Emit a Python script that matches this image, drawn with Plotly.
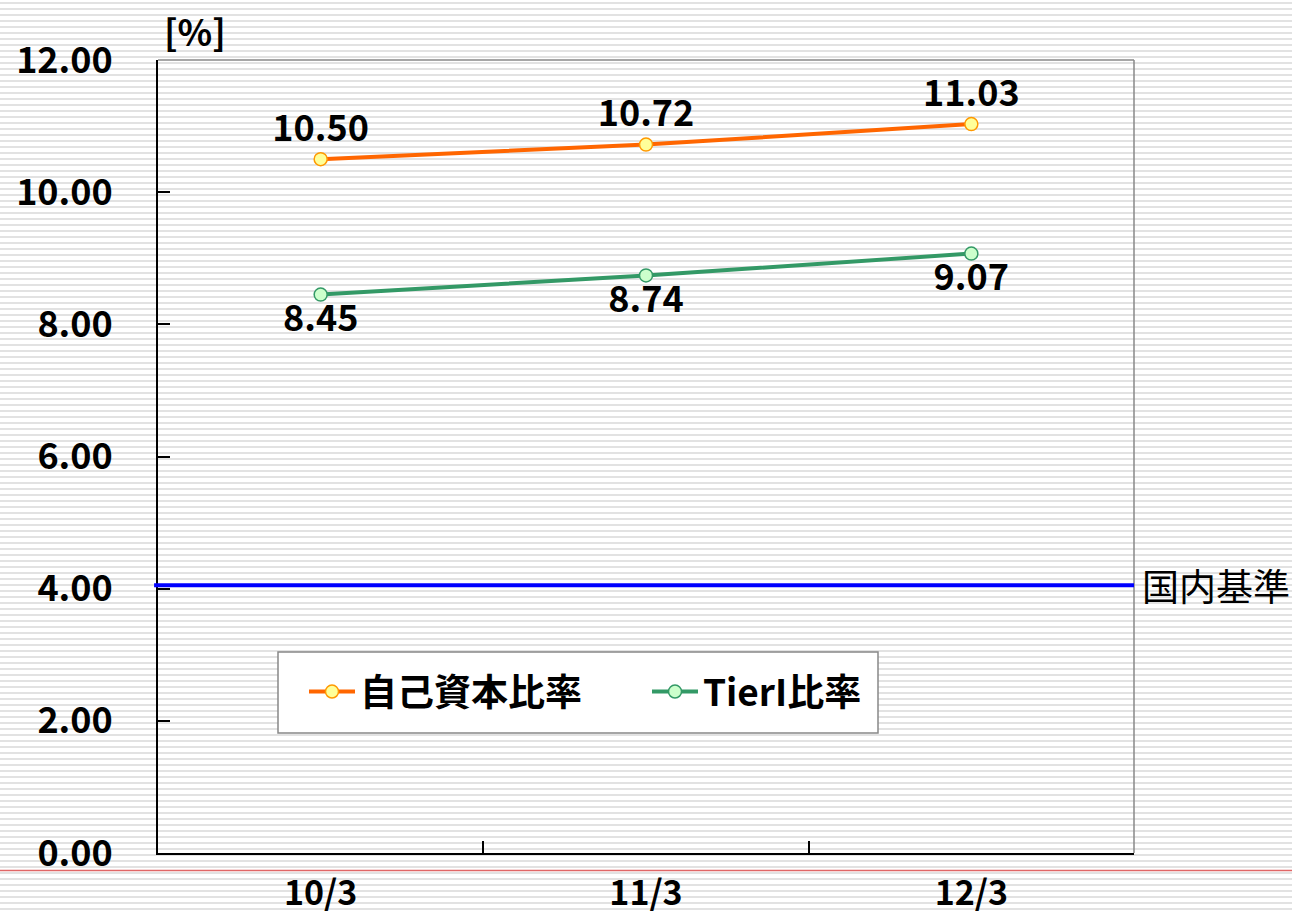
import plotly.graph_objects as go

# Capital adequacy ratios by fiscal year end
periods = ["10/3", "11/3", "12/3"]
capital_ratio = [10.50, 10.72, 11.03]
tier1_ratio = [8.45, 8.74, 9.07]
domestic_standard = 4.05

W, H = 1292, 914
ML, MR, MT, MB = 158, 158, 60, 61
PW, PH = W - ML - MR, H - MT - MB

FONT = "Noto Sans CJK JP"
NUM_SIZE = 36


def px_to_paper_x(x):
    return (x - ML) / PW


def px_to_paper_y(y):
    return (H - MB - y) / PH


# horizontal pinstripe backdrop across the whole canvas
segs = []
for y in range(2, H, 6):
    y0, y1 = px_to_paper_y(y), px_to_paper_y(y + 2)
    x0, x1 = px_to_paper_x(0), px_to_paper_x(W)
    segs.append(f"M{x0:.5f},{y0:.5f}L{x1:.5f},{y0:.5f}L{x1:.5f},{y1:.5f}L{x0:.5f},{y1:.5f}Z")
stripe_path = "".join(segs)

fig = go.Figure()

fig.add_trace(go.Scatter(
    x=periods, y=capital_ratio, name="自己資本比率",
    mode="lines+markers+text",
    line=dict(color="#ff6600", width=4),
    marker=dict(symbol="circle", size=13, color="#ffff99",
                line=dict(color="#ff9900", width=1.5)),
    text=[f"{v:.2f}" for v in capital_ratio],
    textposition="top center",
    textfont=dict(family=FONT, size=NUM_SIZE, color="black", weight="bold"),
))

fig.add_trace(go.Scatter(
    x=periods, y=tier1_ratio, name="TierI比率",
    mode="lines+markers+text",
    line=dict(color="#339966", width=4),
    marker=dict(symbol="circle", size=13, color="#ccffcc",
                line=dict(color="#339966", width=1.5)),
    text=[f"{v:.2f}" for v in tier1_ratio],
    textposition="bottom center",
    textfont=dict(family=FONT, size=NUM_SIZE, color="black", weight="bold"),
))

shapes = [
    dict(type="path", xref="paper", yref="paper", path=stripe_path,
         fillcolor="#e2e2e2", line=dict(width=0), layer="below"),
    # light red rule beneath the chart
    dict(type="line", xref="paper", yref="paper",
         x0=px_to_paper_x(0), x1=px_to_paper_x(W),
         y0=px_to_paper_y(870.5), y1=px_to_paper_y(870.5),
         line=dict(color="#e06666", width=1.5), layer="below"),
    # gray frame on top and right of plot area
    dict(type="line", xref="paper", yref="paper", x0=0, x1=1, y0=1, y1=1,
         line=dict(color="#888888", width=1.5)),
    dict(type="line", xref="paper", yref="paper", x0=1, x1=1, y0=0, y1=1,
         line=dict(color="#888888", width=1.5)),
    # domestic regulatory minimum
    dict(type="line", xref="paper", yref="y", x0=-0.004, x1=1,
         y0=domestic_standard, y1=domestic_standard,
         line=dict(color="#0000ff", width=4)),
    # legend frame
    dict(type="rect", xref="paper", yref="paper",
         x0=px_to_paper_x(278), x1=px_to_paper_x(878),
         y0=px_to_paper_y(733), y1=px_to_paper_y(652),
         fillcolor="white", line=dict(color="#888888", width=1.5), layer="below"),
]

annotations = [
    dict(text="国内基準", xref="paper", yref="y", x=px_to_paper_x(1140),
         y=domestic_standard, xanchor="left", yanchor="middle", showarrow=False,
         font=dict(family=FONT, size=37, color="black")),
    dict(text="[%]", xref="paper", yref="paper", x=px_to_paper_x(162),
         y=px_to_paper_y(30), xanchor="left", yanchor="middle", showarrow=False,
         font=dict(family=FONT, size=36, color="black", weight="bold")),
]

fig.update_layout(
    width=W, height=H,
    margin=dict(l=ML, r=MR, t=MT, b=MB, pad=0, autoexpand=False),
    paper_bgcolor="white",
    plot_bgcolor="rgba(0,0,0,0)",
    shapes=shapes,
    annotations=annotations,
    showlegend=True,
    legend=dict(
        orientation="h",
        x=px_to_paper_x(304), y=px_to_paper_y(692),
        xanchor="left", yanchor="middle",
        bgcolor="rgba(0,0,0,0)", borderwidth=0,
        font=dict(family=FONT, size=37, color="black", weight="bold"),
        itemwidth=46, tracegroupgap=0,
        entrywidth=282,
    ),
    xaxis=dict(
        type="category", range=[-0.5, 2.5], automargin=False,
        tickson="boundaries", ticks="inside", ticklen=12, tickwidth=1.5,
        tickcolor="black", showline=True, linecolor="black", linewidth=2,
        showgrid=False, zeroline=False,
        tickfont=dict(family=FONT, size=34, color="black", weight="bold"),
        ticklabelstandoff=9,
    ),
    yaxis=dict(
        range=[0, 12], tickvals=[0, 2, 4, 6, 8, 10, 12], automargin=False,
        ticktext=["0.00", "2.00", "4.00", "6.00", "8.00", "10.00", "12.00"],
        ticks="inside", ticklen=12, tickwidth=1.5, tickcolor="black",
        showline=True, linecolor="black", linewidth=2,
        showgrid=False, zeroline=False,
        tickfont=dict(family=FONT, size=NUM_SIZE, color="black", weight="bold"),
        ticklabelstandoff=36,
    ),
)

fig.write_html("out.html")
